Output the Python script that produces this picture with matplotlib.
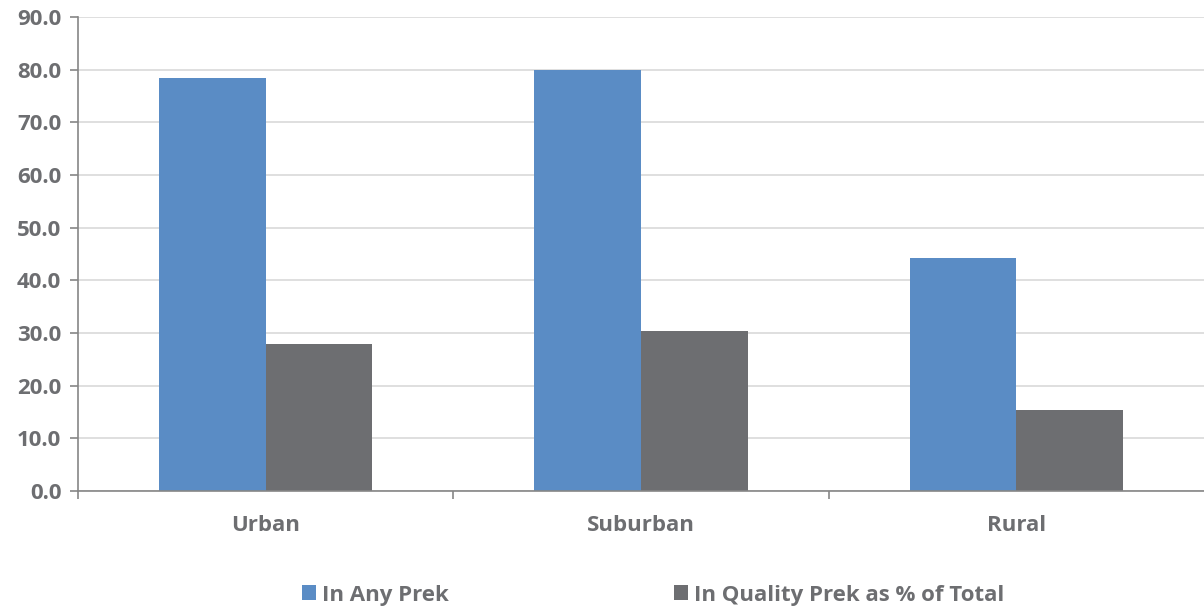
#!/usr/bin/env python

import numpy as np
import matplotlib as mpl
import matplotlib.pyplot as plt

categories = ['Urban', 'Suburban', 'Rural']
any_prek = [78.4, 79.9, 44.2]
quality_prek = [27.9, 30.4, 15.4]
series_labels = ['In Any Prek', 'In Quality Prek as % of Total']

mpl.rc('font', family=['Open Sans', 'DejaVu Sans'], weight='bold', size=16)

text_c = '#6d6e71'
blue = '#5a8cc5'
grey = '#6d6e71'
spine_c = '#868686'


def main() -> None:

    fig = plt.figure(figsize=(12.04, 6.09), dpi=100)
    ax = fig.add_axes([78/1204, 118/609, 1126/1204, 474/609])

    x = np.arange(len(categories))
    w = 0.284

    ax.bar(x - w/2, any_prek, width=w, color=blue, label=series_labels[0],
           zorder=2)
    ax.bar(x + w/2, quality_prek, width=w, color=grey, label=series_labels[1],
           zorder=2)

    ax.set_xlim(-0.5, 2.5)
    ax.set_ylim(0, 90)
    ax.set_yticks(np.arange(0, 91, 10))
    ax.set_yticklabels([f'{v:.1f}' for v in np.arange(0, 91, 10)])

    ax.set_xticks(x)
    ax.set_xticklabels(categories)
    ax.set_xticks([-0.5, 0.5, 1.5], minor=True)
    ax.tick_params(axis='x', which='major', length=0, pad=17,
                   labelcolor=text_c, labelsize=16)
    ax.tick_params(axis='x', which='minor', length=6, color=spine_c,
                   width=1.2)
    ax.tick_params(axis='y', length=6, color=spine_c, width=1.2,
                   labelcolor=text_c, labelsize=16, pad=6)

    ax.grid(axis='y', color='#d9d9d9', lw=1.2, zorder=0)
    ax.set_axisbelow(True)

    for s in ('top', 'right'):
        ax.spines[s].set_visible(False)
    for s in ('left', 'bottom'):
        ax.spines[s].set_color(spine_c)
        ax.spines[s].set_linewidth(1.2)

    leg = fig.legend(
        ncol=2,
        loc='center',
        bbox_to_anchor=(653/1204, 1 - 595/609),
        frameon=False,
        handlelength=0.65,
        handleheight=0.65,
        handletextpad=0.28,
        columnspacing=10.1,
        fontsize=16,
    )
    for t in leg.get_texts():
        t.set_color(text_c)

    fig.savefig('out.png', dpi=100)

    return


if __name__ == '__main__':
    main()
